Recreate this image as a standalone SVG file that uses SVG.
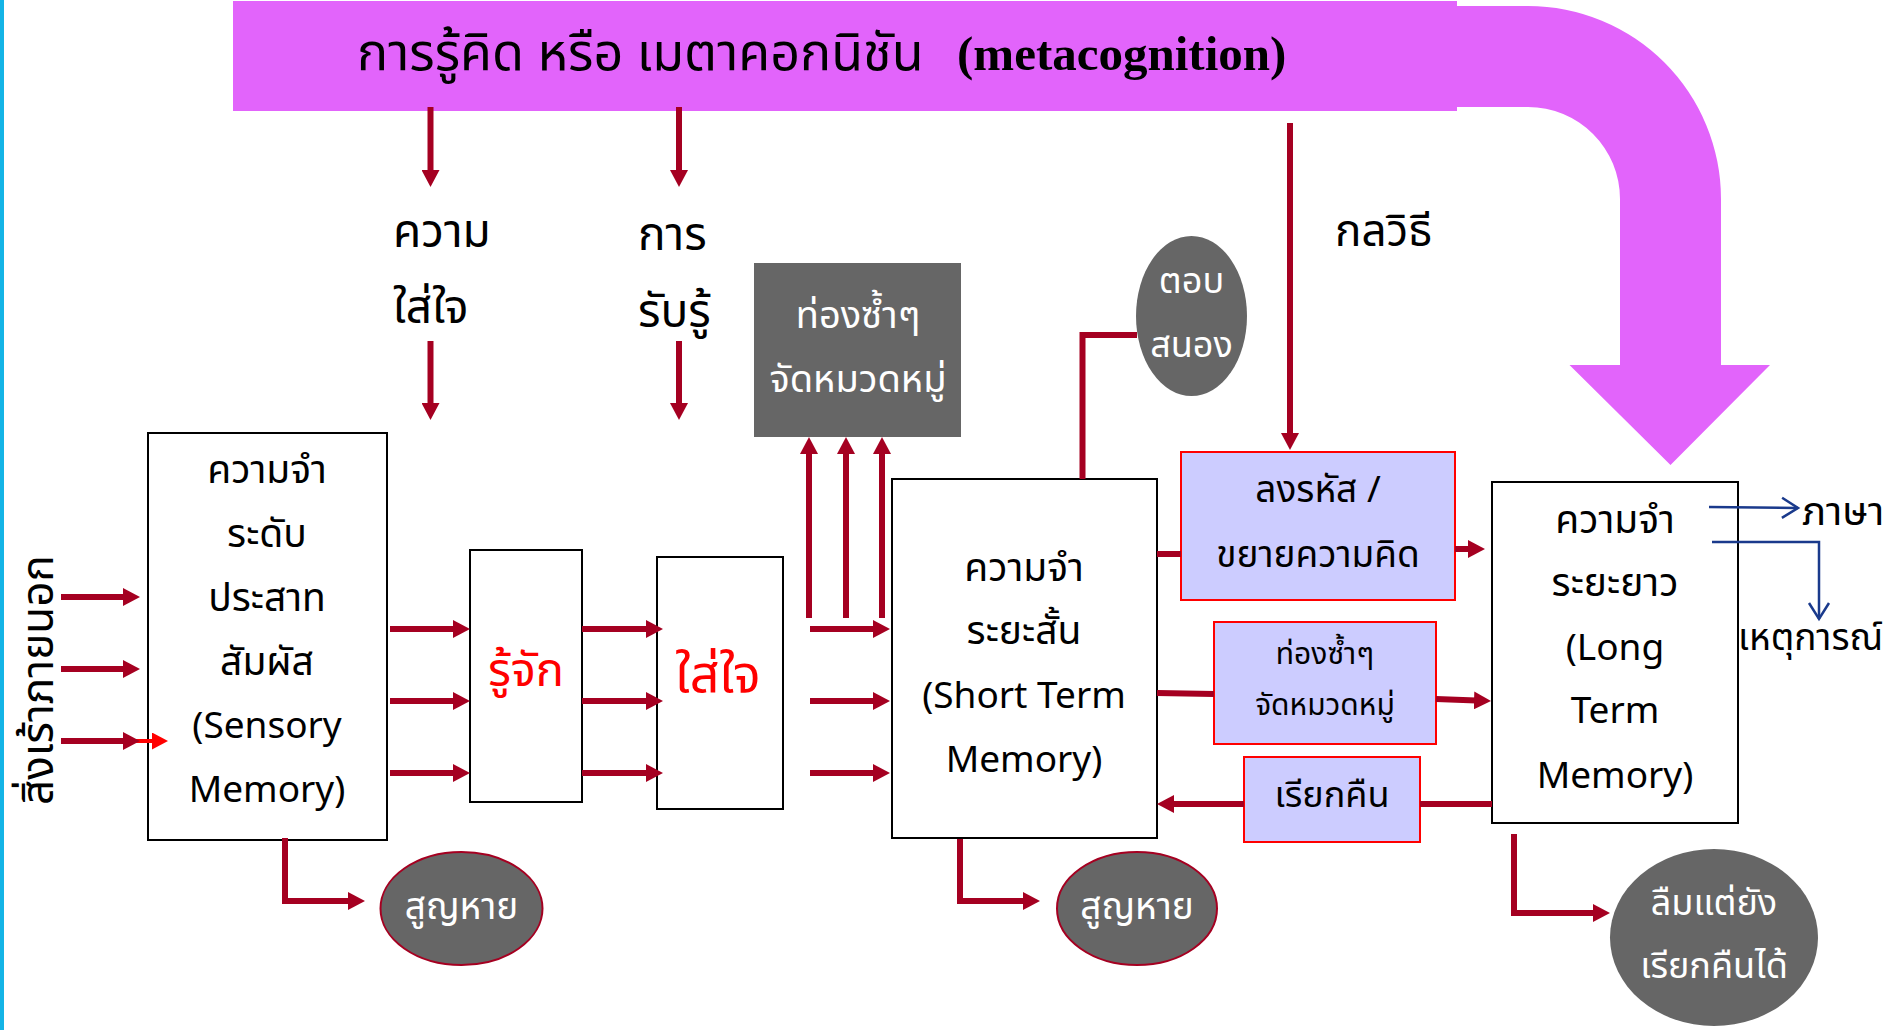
<svg xmlns="http://www.w3.org/2000/svg" width="1896" height="1030" viewBox="0 0 1896 1030">
<style>
.th{font-family:"Noto Sans Thai","Noto Sans","DejaVu Sans",sans-serif;}
.box{fill:#ffffff;stroke:#000000;stroke-width:2;}
.lav{fill:#CCCCFF;stroke:#FF0000;stroke-width:2;}
.gray{fill:#666666;}
.lost{fill:#666666;stroke:#A50021;stroke-width:2;}
.t{fill:#000;text-anchor:middle;}
.w{fill:#fff;text-anchor:middle;}
.lbl{font-size:46px;fill:#000;}
.c{fill:none;stroke:#A50021;stroke-width:6;}
.b{fill:none;stroke:#1A3A8C;stroke-width:2.5;}
</style>
<defs>
<marker id="ah" markerUnits="userSpaceOnUse" viewBox="0 0 17 18" markerWidth="17" markerHeight="18" refX="9" refY="9" orient="auto"><path d="M0,0 L17,9 L0,18 z" fill="#A50021"/></marker>
<marker id="ahr" markerUnits="userSpaceOnUse" viewBox="0 0 16 17" markerWidth="16" markerHeight="17" refX="8" refY="8.5" orient="auto"><path d="M0,0 L16,8.5 L0,17 z" fill="#FF0000"/></marker>
<marker id="ab" markerUnits="userSpaceOnUse" viewBox="-1 -1 19 22" markerWidth="19" markerHeight="22" refX="16" refY="10" orient="auto" overflow="visible"><path d="M0,0 L16,10 L0,20" fill="none" stroke="#1A3A8C" stroke-width="2.5"/></marker>
</defs>
<rect x="0" y="0" width="1896" height="1030" fill="#ffffff"/>
<rect x="0" y="0" width="4" height="1030" fill="#14B4E6"/>

<g id="metacognition">
<rect x="233" y="1" width="1224" height="110" fill="#E264FB"/>
<path d="M1455,6 L1528,6 A193,193 0 0 1 1721,199 L1721,365 L1770,365 L1670.5,465 L1569.5,365 L1620,365 L1620,199 A92,92 0 0 0 1528,107 L1455,107 Z" fill="#E264FB"/>
<text class="th" x="357" y="70" font-size="52" fill="#000">การรู้คิด หรือ เมตาคอกนิชัน</text>
<text x="957" y="70" font-family="Liberation Serif, serif" font-weight="bold" font-size="49" fill="#000">(metacognition)</text>
</g>

<g id="label-attention">
<text class="th lbl" x="393" y="247">ความ</text>
<text class="th lbl" x="393" y="323">ใส่ใจ</text>
</g>
<g id="label-perception">
<text class="th lbl" x="638" y="250">การ</text>
<text class="th lbl" x="638" y="327">รับรู้</text>
</g>
<g id="label-strategy">
<text class="th" x="1335" y="246" font-size="44" fill="#000">กลวิธี</text>
</g>
<g id="label-stimulus">
<text class="th" transform="translate(53,680) rotate(-90)" x="0" y="0" font-size="44" text-anchor="middle" fill="#000">สิ่งเร้าภายนอก</text>
</g>

<g id="sensory-memory">
<rect class="box" x="148" y="433" width="239" height="407"/>
<text class="th t" x="267" font-size="39"><tspan x="267" y="483">ความจำ</tspan><tspan x="267" y="547">ระดับ</tspan><tspan x="267" y="611">ประสาท</tspan><tspan x="267" y="675">สัมผัส</tspan><tspan x="267" y="738" font-size="37">(Sensory</tspan><tspan x="267" y="802" font-size="37">Memory)</tspan></text>
</g>

<g id="recognize">
<rect class="box" x="470" y="550" width="112" height="252"/>
<text class="th" x="526" y="686" font-size="47" fill="#FF0000" text-anchor="middle">รู้จัก</text>
</g>

<g id="attend">
<rect class="box" x="657" y="557" width="126" height="252"/>
<text class="th" x="718" y="692" font-size="52" fill="#FF0000" text-anchor="middle">ใส่ใจ</text>
</g>

<g id="rehearse-1">
<rect class="gray" x="754" y="263" width="207" height="174"/>
<text class="th w" x="858" font-size="38"><tspan x="858" y="328">ท่องซ้ำๆ</tspan><tspan x="858" y="392">จัดหมวดหมู่</tspan></text>
</g>

<g id="short-term-memory">
<rect class="box" x="892" y="479" width="265" height="359"/>
<text class="th t" x="1024" font-size="39"><tspan x="1024" y="581">ความจำ</tspan><tspan x="1024" y="644">ระยะสั้น</tspan><tspan x="1024" y="708" font-size="37">(Short Term</tspan><tspan x="1024" y="772" font-size="37">Memory)</tspan></text>
</g>

<g id="respond">
<ellipse class="gray" cx="1191.5" cy="316" rx="55.5" ry="80"/>
<text class="th w" x="1191.5" font-size="36"><tspan x="1191.5" y="293">ตอบ</tspan><tspan x="1191.5" y="357">สนอง</tspan></text>
</g>

<g id="encode">
<rect class="lav" x="1181" y="452" width="274" height="148"/>
<text class="th t" x="1318" font-size="37"><tspan x="1318" y="502">ลงรหัส /</tspan><tspan x="1318" y="567">ขยายความคิด</tspan></text>
</g>

<g id="rehearse-2">
<rect class="lav" x="1214" y="622" width="222" height="122"/>
<text class="th t" x="1325" font-size="30"><tspan x="1325" y="664">ท่องซ้ำๆ</tspan><tspan x="1325" y="715">จัดหมวดหมู่</tspan></text>
</g>

<g id="retrieve">
<rect class="lav" x="1244" y="757" width="176" height="85"/>
<text class="th t" x="1332" y="807" font-size="36">เรียกคืน</text>
</g>

<g id="long-term-memory">
<rect class="box" x="1492" y="482" width="246" height="341"/>
<text class="th t" x="1615" font-size="39"><tspan x="1615" y="533">ความจำ</tspan><tspan x="1615" y="596">ระยะยาว</tspan><tspan x="1615" y="660" font-size="37">(Long</tspan><tspan x="1615" y="723" font-size="37">Term</tspan><tspan x="1615" y="788" font-size="37">Memory)</tspan></text>
</g>

<g id="language">
<text class="th" x="1802" y="525" font-size="40" fill="#000">ภาษา</text>
</g>
<g id="event">
<text class="th" x="1738" y="650" font-size="37" fill="#000">เหตุการณ์</text>
</g>

<g id="lost-1">
<ellipse class="lost" cx="461.5" cy="908.5" rx="81" ry="56.5"/>
<text class="th w" x="461.5" y="919" font-size="37">สูญหาย</text>
</g>
<g id="lost-2">
<ellipse class="lost" cx="1137" cy="908.5" rx="80" ry="56.5"/>
<text class="th w" x="1137" y="919" font-size="37">สูญหาย</text>
</g>
<g id="forgotten">
<ellipse class="gray" cx="1714" cy="937.5" rx="104" ry="88.5"/>
<text class="th w" x="1714" font-size="36"><tspan x="1714" y="915">ลืมแต่ยัง</tspan><tspan x="1714" y="978">เรียกคืนได้</tspan></text>
</g>

<g id="connectors">
<line class="c" x1="430.5" y1="107" x2="430.5" y2="179" marker-end="url(#ah)"/>
<line class="c" x1="679" y1="107" x2="679" y2="179" marker-end="url(#ah)"/>
<line class="c" x1="430.5" y1="341" x2="430.5" y2="412" marker-end="url(#ah)"/>
<line class="c" x1="679" y1="341" x2="679" y2="412" marker-end="url(#ah)"/>
<line x1="136" y1="741" x2="160" y2="741" stroke="#FF0000" stroke-width="4" marker-end="url(#ahr)"/>
<line class="c" x1="61" y1="597" x2="132" y2="597" marker-end="url(#ah)"/>
<line class="c" x1="61" y1="669" x2="132" y2="669" marker-end="url(#ah)"/>
<line class="c" x1="61" y1="741" x2="132" y2="741" marker-end="url(#ah)"/>
<line class="c" x1="390" y1="629" x2="462" y2="629" marker-end="url(#ah)"/>
<line class="c" x1="390" y1="701" x2="462" y2="701" marker-end="url(#ah)"/>
<line class="c" x1="390" y1="773" x2="462" y2="773" marker-end="url(#ah)"/>
<line class="c" x1="582" y1="629" x2="655" y2="629" marker-end="url(#ah)"/>
<line class="c" x1="582" y1="701" x2="655" y2="701" marker-end="url(#ah)"/>
<line class="c" x1="582" y1="773" x2="655" y2="773" marker-end="url(#ah)"/>
<line class="c" x1="810" y1="629" x2="882" y2="629" marker-end="url(#ah)"/>
<line class="c" x1="810" y1="701" x2="882" y2="701" marker-end="url(#ah)"/>
<line class="c" x1="810" y1="773" x2="882" y2="773" marker-end="url(#ah)"/>
<line class="c" x1="809" y1="618" x2="809" y2="445" marker-end="url(#ah)"/>
<line class="c" x1="846" y1="618" x2="846" y2="445" marker-end="url(#ah)"/>
<line class="c" x1="882" y1="618" x2="882" y2="445" marker-end="url(#ah)"/>
<polyline class="c" points="1082.5,479 1082.5,335 1137,335"/>
<line class="c" x1="1290" y1="123" x2="1290" y2="442" stroke-width="5" marker-end="url(#ah)"/>
<line class="c" x1="1157" y1="554" x2="1181" y2="554"/>
<line class="c" x1="1455" y1="549" x2="1477" y2="549" marker-end="url(#ah)"/>
<line class="c" x1="1157" y1="693" x2="1214" y2="694"/>
<line class="c" x1="1436" y1="699" x2="1483" y2="700.7" marker-end="url(#ah)"/>
<line class="c" x1="1492" y1="804" x2="1420" y2="804"/>
<line class="c" x1="1244" y1="804" x2="1165" y2="804" marker-end="url(#ah)"/>
<polyline class="c" points="285,838 285,901 357,901" marker-end="url(#ah)"/>
<polyline class="c" points="960,839 960,901 1032,901" marker-end="url(#ah)"/>
<polyline class="c" points="1514,834 1514,913 1602,913" marker-end="url(#ah)"/>
<line class="b" x1="1709" y1="507" x2="1798" y2="508" marker-end="url(#ab)"/>
<polyline class="b" points="1712,542 1819,542 1819,619" marker-end="url(#ab)"/>
</g>
</svg>
